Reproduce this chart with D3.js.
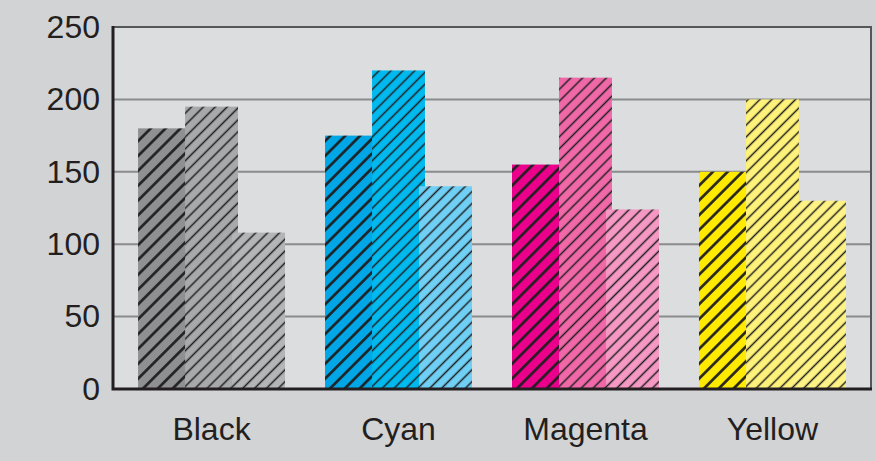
<!DOCTYPE html>
<html>
<head>
<meta charset="utf-8">
<script src="https://cdn.jsdelivr.net/npm/d3@7"></script>
<style>
  html, body { margin: 0; padding: 0; background: #d2d3d5; }
  svg { display: block; }
</style>
</head>
<body>
<svg id="chart"></svg>
<script>
const categories = ['Black', 'Cyan', 'Magenta', 'Yellow'];
const series = ['s1', 's2', 's3'];
const values = [
  [180, 195, 108],
  [175, 220, 140],
  [155, 215, 124],
  [150, 200, 130],
];
const yTicks = [0, 50, 100, 150, 200, 250];

const FILLS = [
  ['#8f9092', '#a8a9ab', '#b4b5b7'],
  ['#00a6e6', '#00b9ef', '#70cff4'],
  ['#ea008b', '#f068a8', '#f698c4'],
  ['#ffea00', '#fff27a', '#fff385'],
];

const W = 875, H = 461;
const margin = { top: 27, right: 4, bottom: 72, left: 113 };

const svg = d3.select('#chart').attr('width', W).attr('height', H);

// hatch patterns, one per bar
const defs = svg.append('defs');
FILLS.forEach((row, g) => {
  row.forEach((c, i) => {
    const thick = i === 0;
    const step = thick ? 10.5 : 8.4;
    const p = defs.append('pattern')
      .attr('id', `hatch-${g}-${i}`)
      .attr('patternUnits', 'userSpaceOnUse')
      .attr('width', step)
      .attr('height', step)
      .attr('patternTransform', 'rotate(45)');
    p.append('rect').attr('width', step).attr('height', step).attr('fill', c);
    p.append('line')
      .attr('x1', step / 2).attr('x2', step / 2)
      .attr('y1', 0).attr('y2', step)
      .attr('stroke', '#1f1f1f')
      .attr('stroke-width', thick ? 2.6 : 1.5);
  });
});

const x0 = margin.left, x1 = W - margin.right;
const yTop = margin.top;

const x = d3.scaleBand()
  .domain(categories)
  .range([x0, x1])
  .paddingInner(0.214)
  .paddingOuter(0.134);

const barW = x.bandwidth() * 0.36;
const xs = d3.scalePoint()
  .domain(series)
  .range([0, x.bandwidth() - barW]);

const y = d3.scaleLinear().domain([0, 250]).range([389, yTop]);

// plot background
svg.append('rect')
  .attr('x', x0).attr('y', y(250))
  .attr('width', x1 - x0).attr('height', y(0) - y(250))
  .attr('fill', '#dcdddf');

// gridlines
svg.append('g')
  .selectAll('line')
  .data(yTicks.filter(t => t > 0 && t < 250))
  .join('line')
  .attr('x1', x0).attr('x2', x1)
  .attr('y1', d => y(d)).attr('y2', d => y(d))
  .attr('stroke', '#8a8b8d')
  .attr('stroke-width', 2);

// frame top + right
svg.append('path')
  .attr('d', `M${x0},${y(250)}H${x1}V${y(0)}`)
  .attr('fill', 'none')
  .attr('stroke', '#555658')
  .attr('stroke-width', 2);

// bars
const groups = svg.append('g')
  .selectAll('g')
  .data(categories)
  .join('g')
  .attr('transform', d => `translate(${x(d)},0)`);

groups.selectAll('rect')
  .data((d, g) => values[g].map((v, i) => ({ g, i, v })))
  .join('rect')
  .attr('x', d => xs(series[d.i]))
  .attr('y', d => y(d.v))
  .attr('width', barW)
  .attr('height', d => y(0) - y(d.v))
  .attr('fill', d => `url(#hatch-${d.g}-${d.i})`);

// axes lines
svg.append('path')
  .attr('d', `M${x0},${y(250) - 1}V${y(0)}H${x1 + 1}`)
  .attr('fill', 'none')
  .attr('stroke', '#231f20')
  .attr('stroke-width', 3);

// y tick labels
const yAxis = d3.axisLeft(y).tickValues(yTicks).tickSize(0).tickPadding(13);
const ya = svg.append('g').attr('transform', `translate(${x0},0)`).call(yAxis);
ya.select('.domain').remove();
ya.selectAll('text')
  .attr('font-family', 'Liberation Sans, Arial, sans-serif')
  .attr('font-size', 32)
  .attr('fill', '#231f20');

// x labels
const xAxis = d3.axisBottom(x).tickSize(0).tickPadding(28);
const xa = svg.append('g').attr('transform', `translate(0,${y(0)})`).call(xAxis);
xa.select('.domain').remove();
xa.selectAll('text')
  .attr('font-family', 'Liberation Sans, Arial, sans-serif')
  .attr('font-size', 32)
  .attr('fill', '#231f20');
</script>
</body>
</html>
